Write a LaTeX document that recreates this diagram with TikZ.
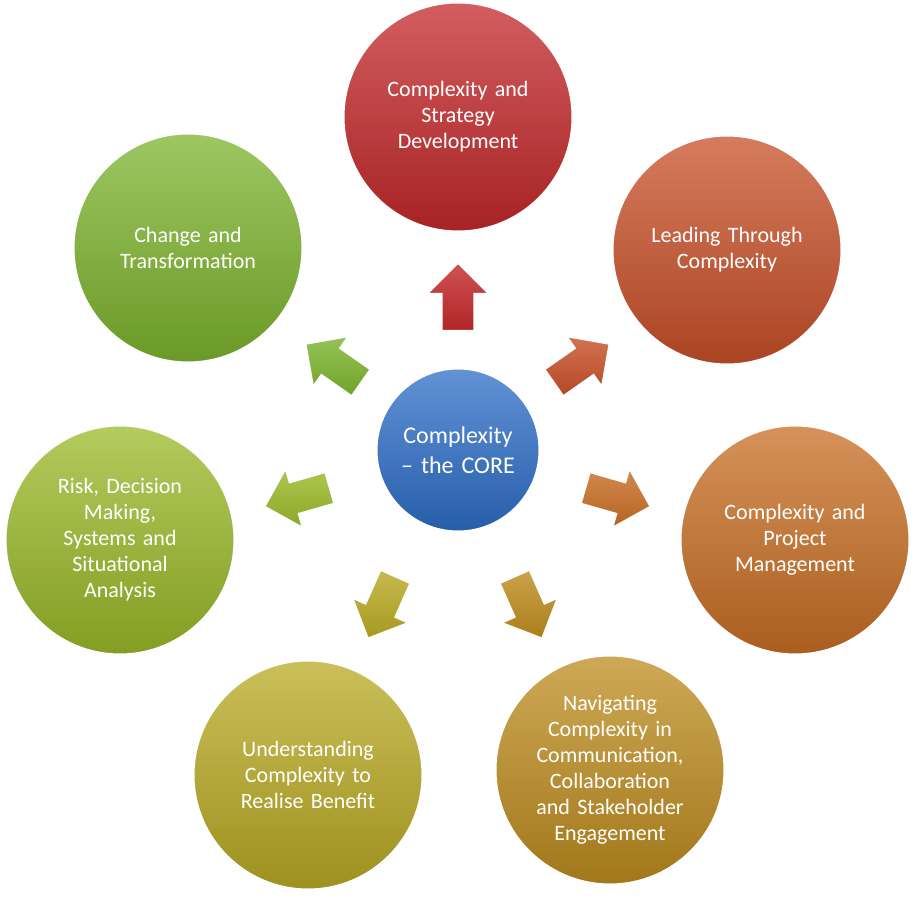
\documentclass[tikz,border=0pt]{standalone}
\usepackage{fontspec}
\setmainfont{Carlito}
\usetikzlibrary{shapes.arrows}

\definecolor{cRed}{RGB}{196,40,42}
\definecolor{cRust}{RGB}{200,80,40}
\definecolor{cOrange}{RGB}{200,110,35}
\definecolor{cGold}{RGB}{190,140,30}
\definecolor{cOlive}{RGB}{185,170,35}
\definecolor{cLime}{RGB}{155,185,40}
\definecolor{cGreen}{RGB}{125,180,45}
\definecolor{cBlue}{RGB}{45,110,200}

\tikzset{
  topic/.style={circle, draw=white, line width=1.5pt, minimum size=115pt, inner sep=0pt,
    top color=#1!75!white, bottom color=#1!85!black, text=white, align=center,
    font=\fontsize{11}{13}\selectfont, text width=82pt},
  core/.style={topic=#1, minimum size=82pt, font=\fontsize{12}{15}\selectfont, text width=66pt},
  pointer/.style={single arrow, draw=white, line width=1pt, minimum height=34pt, minimum width=31pt,
    single arrow head extend=4pt, inner sep=4pt, top color=#1!80!white, bottom color=#1!90!black}
}

\begin{document}
\begin{tikzpicture}[x=0.5pt,y=-0.5pt]
\useasboundingbox (0,0) rectangle (916,898);

\node[core=cBlue] (core) at (458,450) {Complexity\\\textendash{} the CORE};

\node[topic=cRed] (strategy) at (458,117) {Complexity and\\Strategy\\Development};
\node[topic=cRust] (leading) at (727,250) {Leading Through\\Complexity};
\node[topic=cOrange] (project) at (795,540) {Complexity and\\Project\\Management};
\node[topic=cGold] (navigating) at (610,770) {Navigating\\Complexity in\\Communication,\\Collaboration\\and Stakeholder\\Engagement};
\node[topic=cOlive] (benefit) at (308,775) {Understanding\\Complexity to\\Realise Benefit};
\node[topic=cLime] (risk) at (120,540) {Risk, Decision\\Making,\\Systems and\\Situational\\Analysis};
\node[topic=cGreen] (change) at (188,248) {Change and\\Transformation};

% arrows out of the core
\foreach \name/\col/\ang/\px/\py in {up/cRed/90/458/305, upright/cRust/35/575/368, right/cOrange/-16/610/495,
    downright/cGold/-66/525/600, downleft/cOlive/-114/385/600, left/cLime/-164/305/495, upleft/cGreen/145/340/368}
  \node[pointer=\col, rotate=\ang] (arr-\name) at (\px,\py) {};
\end{tikzpicture}
\end{document}
